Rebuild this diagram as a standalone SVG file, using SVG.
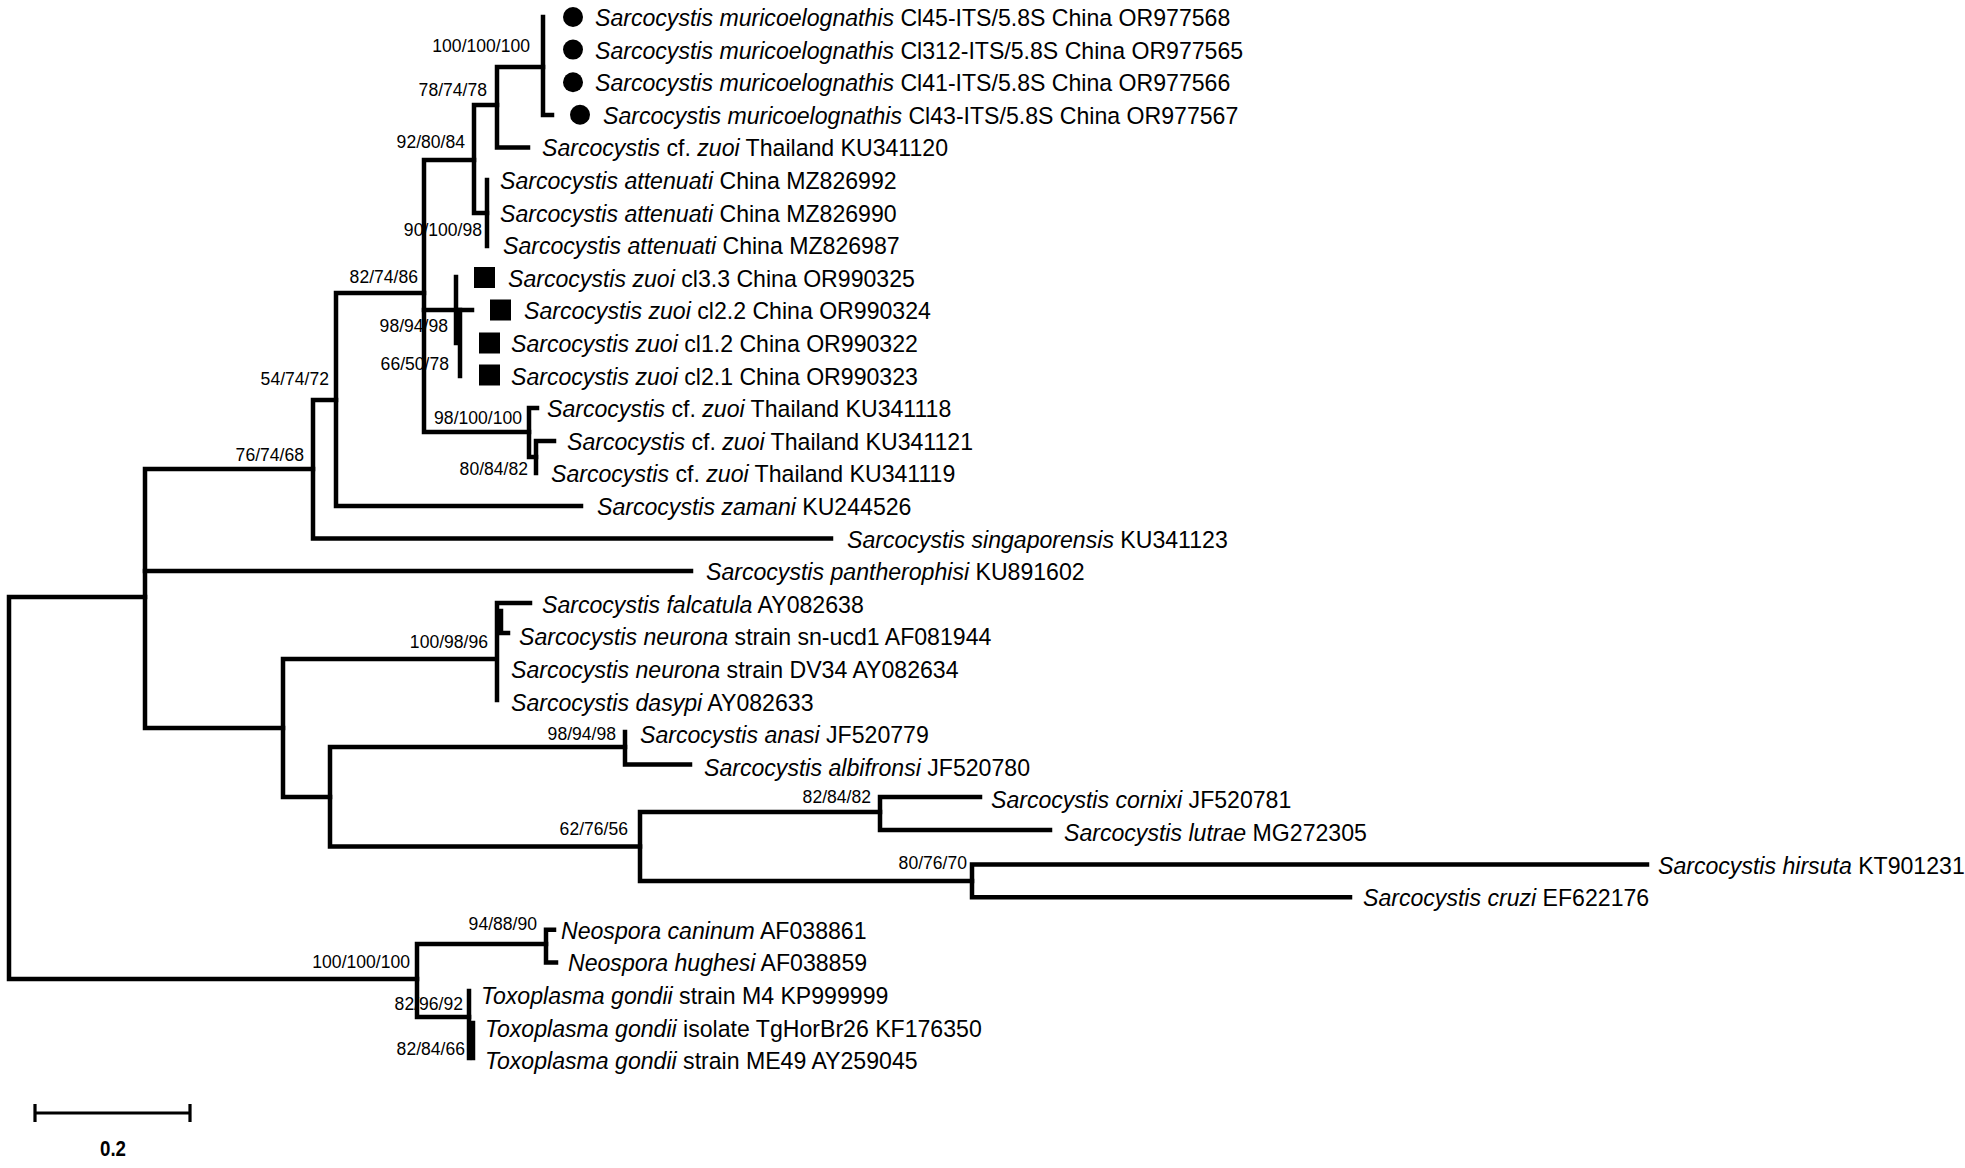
<svg xmlns="http://www.w3.org/2000/svg" width="1965" height="1168" viewBox="0 0 1965 1168">
<style>
.br{stroke:#000;stroke-width:4.5;fill:none;stroke-linejoin:miter;stroke-linecap:square}
.sb{stroke:#000;stroke-width:3.2;fill:none}
text{font-family:"Liberation Sans",Arial,sans-serif;fill:#000}
.t{font-size:24.5px}
.s{font-size:18.5px;text-anchor:end}
.i{font-style:italic}
.b{font-size:22px;font-weight:bold;text-anchor:middle}
</style>
<defs>
<circle id="dot" r="10" fill="#000"/>
<rect id="sq" width="21" height="21" fill="#000"/>
</defs>
<rect width="1965" height="1168" fill="#fff"/>
<g id="connectors" class="br">
<path d="M145,597 H9 V979 H417"/>
<path d="M313,469 H145 V728 H283"/>
<path d="M145,571 H691"/>
<path d="M336,400 H313 V538.6 H831"/>
<path d="M424,293 H336 V506 H581"/>
<path d="M474,160 H424 V432 H529"/>
<path d="M424,310 H472"/>
<path d="M497,105 H474 V213 H487"/>
<path d="M543,67 H497 V147.4 H528"/>
<path d="M543,17 V115 H552"/>
<path d="M487,180 V246"/>
<path d="M456,277 V343"/>
<path d="M460,310 V376"/>
<path d="M537,408 H529 V457 H536"/>
<path d="M554,441 H536 V473"/>
<path d="M496,659 H283 V797 H330"/>
<path d="M530,603 H497 V700"/>
<path d="M501,611 V633 H508"/>
<path d="M625,747 H330 V846.5 H640"/>
<path d="M625,732 V764.6 H690"/>
<path d="M880,812 H640 V881 H972"/>
<path d="M980,797 H880 V830 H1050"/>
<path d="M1647,864.6 H972 V897.2 H1350"/>
<path d="M546,944 H417 V1017 H469"/>
<path d="M554,929.8 H546 V962.4 H556"/>
<path d="M469,991 V1058"/>
<path d="M473,1023 V1058"/>
</g>
<g id="leaf-OR977568"><use href="#dot" x="573" y="17"/><text class="t" transform="translate(595,26) scale(0.943,1)"><tspan class="i">Sarcocystis muricoelognathis</tspan> Cl45-ITS/5.8S China OR977568</text></g>
<g id="leaf-OR977565"><use href="#dot" x="573" y="49.6"/><text class="t" transform="translate(595,58.6) scale(0.943,1)"><tspan class="i">Sarcocystis muricoelognathis</tspan> Cl312-ITS/5.8S China OR977565</text></g>
<g id="leaf-OR977566"><use href="#dot" x="573" y="82.2"/><text class="t" transform="translate(595,91.2) scale(0.943,1)"><tspan class="i">Sarcocystis muricoelognathis</tspan> Cl41-ITS/5.8S China OR977566</text></g>
<g id="leaf-OR977567"><use href="#dot" x="580" y="114.8"/><text class="t" transform="translate(603,123.8) scale(0.943,1)"><tspan class="i">Sarcocystis muricoelognathis</tspan> Cl43-ITS/5.8S China OR977567</text></g>
<g id="leaf-KU341120"><text class="t" transform="translate(542,156.4) scale(0.943,1)"><tspan class="i">Sarcocystis</tspan> cf. <tspan class="i">zuoi</tspan> Thailand KU341120</text></g>
<g id="leaf-MZ826992"><text class="t" transform="translate(500,189) scale(0.943,1)"><tspan class="i">Sarcocystis attenuati</tspan> China MZ826992</text></g>
<g id="leaf-MZ826990"><text class="t" transform="translate(500,221.6) scale(0.943,1)"><tspan class="i">Sarcocystis attenuati</tspan> China MZ826990</text></g>
<g id="leaf-MZ826987"><text class="t" transform="translate(503,254.2) scale(0.943,1)"><tspan class="i">Sarcocystis attenuati</tspan> China MZ826987</text></g>
<g id="leaf-OR990325"><use href="#sq" x="474" y="267"/><text class="t" transform="translate(508,286.8) scale(0.943,1)"><tspan class="i">Sarcocystis zuoi</tspan> cl3.3 China OR990325</text></g>
<g id="leaf-OR990324"><use href="#sq" x="490" y="299.5"/><text class="t" transform="translate(524,319.4) scale(0.943,1)"><tspan class="i">Sarcocystis zuoi</tspan> cl2.2 China OR990324</text></g>
<g id="leaf-OR990322"><use href="#sq" x="479" y="332.5"/><text class="t" transform="translate(511,352) scale(0.943,1)"><tspan class="i">Sarcocystis zuoi</tspan> cl1.2 China OR990322</text></g>
<g id="leaf-OR990323"><use href="#sq" x="479" y="364.5"/><text class="t" transform="translate(511,384.6) scale(0.943,1)"><tspan class="i">Sarcocystis zuoi</tspan> cl2.1 China OR990323</text></g>
<g id="leaf-KU341118"><text class="t" transform="translate(547,417.2) scale(0.943,1)"><tspan class="i">Sarcocystis</tspan> cf. <tspan class="i">zuoi</tspan> Thailand KU341118</text></g>
<g id="leaf-KU341121"><text class="t" transform="translate(567,449.8) scale(0.943,1)"><tspan class="i">Sarcocystis</tspan> cf. <tspan class="i">zuoi</tspan> Thailand KU341121</text></g>
<g id="leaf-KU341119"><text class="t" transform="translate(551,482.4) scale(0.943,1)"><tspan class="i">Sarcocystis</tspan> cf. <tspan class="i">zuoi</tspan> Thailand KU341119</text></g>
<g id="leaf-KU244526"><text class="t" transform="translate(597,515) scale(0.943,1)"><tspan class="i">Sarcocystis zamani</tspan> KU244526</text></g>
<g id="leaf-KU341123"><text class="t" transform="translate(847,547.6) scale(0.943,1)"><tspan class="i">Sarcocystis singaporensis</tspan> KU341123</text></g>
<g id="leaf-KU891602"><text class="t" transform="translate(706,580.2) scale(0.943,1)"><tspan class="i">Sarcocystis pantherophisi</tspan> KU891602</text></g>
<g id="leaf-AY082638"><text class="t" transform="translate(542,612.8) scale(0.943,1)"><tspan class="i">Sarcocystis falcatula</tspan> AY082638</text></g>
<g id="leaf-AF081944"><text class="t" transform="translate(519,645.4) scale(0.943,1)"><tspan class="i">Sarcocystis neurona</tspan> strain sn-ucd1 AF081944</text></g>
<g id="leaf-AY082634"><text class="t" transform="translate(511,678) scale(0.943,1)"><tspan class="i">Sarcocystis neurona</tspan> strain DV34 AY082634</text></g>
<g id="leaf-AY082633"><text class="t" transform="translate(511,710.6) scale(0.943,1)"><tspan class="i">Sarcocystis dasypi</tspan> AY082633</text></g>
<g id="leaf-JF520779"><text class="t" transform="translate(640,743.2) scale(0.943,1)"><tspan class="i">Sarcocystis anasi</tspan> JF520779</text></g>
<g id="leaf-JF520780"><text class="t" transform="translate(704,775.8) scale(0.943,1)"><tspan class="i">Sarcocystis albifronsi</tspan> JF520780</text></g>
<g id="leaf-JF520781"><text class="t" transform="translate(991,808.4) scale(0.943,1)"><tspan class="i">Sarcocystis cornixi</tspan> JF520781</text></g>
<g id="leaf-MG272305"><text class="t" transform="translate(1064,841) scale(0.943,1)"><tspan class="i">Sarcocystis lutrae</tspan> MG272305</text></g>
<g id="leaf-KT901231"><text class="t" transform="translate(1658,873.6) scale(0.943,1)"><tspan class="i">Sarcocystis hirsuta</tspan> KT901231</text></g>
<g id="leaf-EF622176"><text class="t" transform="translate(1363,906.2) scale(0.943,1)"><tspan class="i">Sarcocystis cruzi</tspan> EF622176</text></g>
<g id="leaf-AF038861"><text class="t" transform="translate(561,938.8) scale(0.943,1)"><tspan class="i">Neospora caninum</tspan> AF038861</text></g>
<g id="leaf-AF038859"><text class="t" transform="translate(568,971.4) scale(0.943,1)"><tspan class="i">Neospora hughesi</tspan> AF038859</text></g>
<g id="leaf-KP999999"><text class="t" transform="translate(481,1004) scale(0.943,1)"><tspan class="i">Toxoplasma gondii</tspan> strain M4 KP999999</text></g>
<g id="leaf-KF176350"><text class="t" transform="translate(485,1036.6) scale(0.943,1)"><tspan class="i">Toxoplasma gondii</tspan> isolate TgHorBr26 KF176350</text></g>
<g id="leaf-AY259045"><text class="t" transform="translate(485,1069.2) scale(0.943,1)"><tspan class="i">Toxoplasma gondii</tspan> strain ME49 AY259045</text></g>
<g id="support">
<text class="s" transform="translate(530,52) scale(0.95,1)">100/100/100</text>
<text class="s" transform="translate(487,96) scale(0.95,1)">78/74/78</text>
<text class="s" transform="translate(465,148) scale(0.95,1)">92/80/84</text>
<text class="s" transform="translate(482,236) scale(0.95,1)">90/100/98</text>
<text class="s" transform="translate(418,283) scale(0.95,1)">82/74/86</text>
<text class="s" transform="translate(448,332) scale(0.95,1)">98/94/98</text>
<text class="s" transform="translate(449,370) scale(0.95,1)">66/50/78</text>
<text class="s" transform="translate(522,424) scale(0.95,1)">98/100/100</text>
<text class="s" transform="translate(528,475) scale(0.95,1)">80/84/82</text>
<text class="s" transform="translate(329,385) scale(0.95,1)">54/74/72</text>
<text class="s" transform="translate(304,461) scale(0.95,1)">76/74/68</text>
<text class="s" transform="translate(488,648) scale(0.95,1)">100/98/96</text>
<text class="s" transform="translate(616,740) scale(0.95,1)">98/94/98</text>
<text class="s" transform="translate(871,803) scale(0.95,1)">82/84/82</text>
<text class="s" transform="translate(628,835) scale(0.95,1)">62/76/56</text>
<text class="s" transform="translate(967,869) scale(0.95,1)">80/76/70</text>
<text class="s" transform="translate(537,930) scale(0.95,1)">94/88/90</text>
<text class="s" transform="translate(410,968) scale(0.95,1)">100/100/100</text>
<text class="s" transform="translate(463,1010) scale(0.95,1)">82/96/92</text>
<text class="s" transform="translate(465,1055) scale(0.95,1)">82/84/66</text>
</g>
<g id="scale-bar">
<path class="sb" d="M35,1113 H190 M35,1104 V1122 M190,1104 V1122"/>
<text class="b" transform="translate(113,1156) scale(0.85,1)">0.2</text>
</g>
</svg>
